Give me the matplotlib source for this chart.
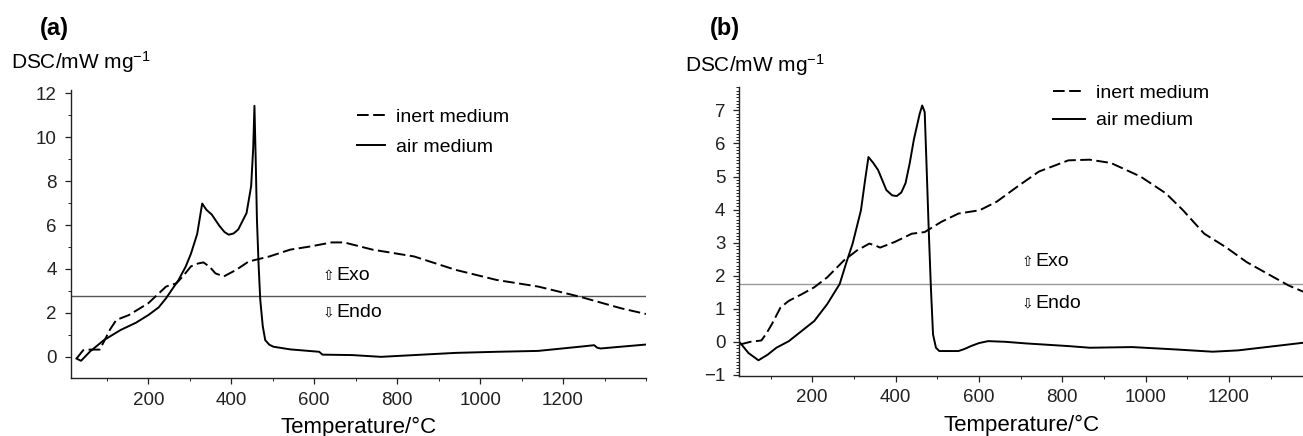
import matplotlib
matplotlib.use("Agg")
import matplotlib.pyplot as plt
from matplotlib.ticker import MultipleLocator, FixedLocator

plt.rcParams['font.family'] = ['Liberation Sans', 'DejaVu Sans']
plt.rcParams['mathtext.fontset'] = 'custom'
plt.rcParams['mathtext.rm'] = 'Liberation Sans'
plt.rcParams['mathtext.it'] = 'Liberation Sans:italic'

# ---- panel (a) ----
a_air_t = [27, 38, 60, 93, 133, 170, 200, 225, 243, 273, 290, 303, 318, 330, 340, 353,
           372, 384, 394, 406, 417, 437, 448, 453, 456, 459, 462, 466, 470, 476, 482,
           492, 502, 542, 612, 620, 692, 761, 841, 941, 1040, 1140, 1240, 1275, 1282,
           1290, 1400]
a_air_v = [-0.08, -0.18, 0.25, 0.76, 1.22, 1.55, 1.9, 2.25, 2.67, 3.5, 4.1, 4.7, 5.6,
           6.98, 6.7, 6.48, 5.95, 5.68, 5.56, 5.62, 5.8, 6.55, 7.77, 9.5, 11.43, 9.0,
           6.25, 4.2, 2.6, 1.4, 0.76, 0.55, 0.46, 0.34, 0.23, 0.1, 0.08, 0.0, 0.08,
           0.18, 0.23, 0.27, 0.46, 0.53, 0.42, 0.38, 0.56]
a_inert_t = [27, 43, 60, 83, 93, 108, 123, 153, 200, 243, 268, 285, 303, 320, 333, 348,
             362, 382, 412, 442, 492, 542, 592, 642, 672, 741, 841, 941, 1040, 1140,
             1240, 1340, 1400]
a_inert_v = [-0.08, 0.3, 0.33, 0.33, 0.69, 1.25, 1.68, 1.9, 2.44, 3.2, 3.35, 3.7, 4.12,
             4.25, 4.3, 4.1, 3.8, 3.66, 3.96, 4.34, 4.57, 4.88, 5.03, 5.21, 5.21, 4.88,
             4.57, 3.96, 3.5, 3.2, 2.74, 2.21, 1.95]
a_baseline = 2.76

# ---- panel (b) ----
b_air_t = [27, 47, 71, 93, 114, 144, 175, 205, 236, 266, 281, 297, 317, 327, 335,
           346, 358, 378, 392, 403, 414, 424, 434, 444, 458, 464, 470, 474, 480, 485,
           490, 497, 505, 551, 565, 581, 600, 622, 663, 714, 815, 866, 968, 1070,
           1161, 1222, 1324, 1378]
b_air_v = [-0.03, -0.34, -0.56, -0.39, -0.18, 0.02, 0.33, 0.63, 1.14, 1.75, 2.36,
           2.97, 3.98, 4.9, 5.59, 5.42, 5.2, 4.59, 4.43, 4.41, 4.52, 4.8, 5.4, 6.12,
           6.9, 7.15, 6.95, 5.5, 3.27, 1.6, 0.22, -0.18, -0.28, -0.28, -0.22, -0.13,
           -0.04, 0.02, 0.0, -0.05, -0.13, -0.18, -0.16, -0.23, -0.3, -0.26, -0.11,
           -0.03]
b_inert_t = [27, 52, 78, 90, 103, 124, 144, 175, 205, 236, 276, 307, 337, 350, 363,
             398, 439, 470, 510, 551, 602, 643, 693, 744, 815, 866, 917, 988, 1049,
             1090, 1141, 1192, 1243, 1294, 1344, 1378]
b_inert_v = [-0.08, 0.0, 0.04, 0.25, 0.53, 1.04, 1.24, 1.44, 1.65, 1.95, 2.46, 2.76,
             2.97, 2.92, 2.85, 3.02, 3.27, 3.32, 3.63, 3.88, 3.98, 4.24, 4.7, 5.15,
             5.49, 5.51, 5.41, 5.0, 4.49, 3.98, 3.27, 2.87, 2.41, 2.05, 1.70, 1.52]
b_baseline = 1.75

x_ticks = [200, 400, 600, 800, 1000, 1200]

W, H = 1303, 436
fig = plt.figure(figsize=(W / 100, H / 100), dpi=100)


def rect(x0, x1, y_top, y_bot):
    return [x0 / W, 1 - y_bot / H, (x1 - x0) / W, (y_bot - y_top) / H]


def fpos(x, y):
    return x / W, 1 - y / H


def style_axes(ax, ymajor, yminor):
    for s in ['top', 'right']:
        ax.spines[s].set_visible(False)
    for s in ['left', 'bottom']:
        ax.spines[s].set_linewidth(1.0)
        ax.spines[s].set_color('#222222')
    ax.xaxis.set_major_locator(FixedLocator(x_ticks))
    ax.xaxis.set_minor_locator(MultipleLocator(100))
    ax.yaxis.set_major_locator(MultipleLocator(ymajor))
    ax.yaxis.set_minor_locator(MultipleLocator(yminor))
    ax.tick_params(which='major', direction='out', length=4, width=0.9,
                   labelsize=13.5, colors='#222222', pad=6)
    ax.tick_params(which='minor', direction='out', length=2.5, width=0.7,
                   colors='#222222')
    ax.set_xlabel('Temperature/°C', fontsize=16, labelpad=6)


dash = (6, 2.3)

# panel a
ax1 = fig.add_axes(rect(70.7, 646, 90, 377.7))
ax1.axhline(a_baseline, color='#555555', lw=1.0)
ax1.plot(a_inert_t, a_inert_v, color='black', lw=1.4, dashes=dash, label='inert medium')
ax1.plot(a_air_t, a_air_v, color='black', lw=1.4, label='air medium')
ax1.set_xlim(13, 1400)
ax1.set_ylim(-0.95, 12.15)
style_axes(ax1, 2, 1)
ax1.legend(loc='upper left', bbox_to_anchor=(0.497, 0.936), frameon=False,
           fontsize=14, handlelength=1.45, handletextpad=0.6, labelspacing=0.62,
           borderpad=0, borderaxespad=0)

# panel b
ax2 = fig.add_axes(rect(739.3, 1303, 87.3, 375.5))
ax2.axhline(b_baseline, color='#999999', lw=1.0)
ax2.plot(b_inert_t, b_inert_v, color='black', lw=1.4, dashes=dash, label='inert medium')
ax2.plot(b_air_t, b_air_v, color='black', lw=1.4, label='air medium')
ax2.set_xlim(25, 1378)
ax2.set_ylim(-1.02, 7.7)
style_axes(ax2, 1, 0.1)
ax2.legend(loc='upper left', bbox_to_anchor=(0.5565, 1.011), frameon=False,
           fontsize=14, handlelength=1.65, handletextpad=0.55, labelspacing=0.52,
           borderpad=0, borderaxespad=0)

# panel letters and y labels
fig.text(*fpos(40, 28), '(a)', fontsize=17, fontweight='bold', va='center', ha='left')
fig.text(*fpos(710, 28), '(b)', fontsize=17, fontweight='bold', va='center', ha='left')
fig.text(*fpos(11, 62), 'DSC/mW mg$^{-1}$', fontsize=15, va='center', ha='left')
fig.text(*fpos(685, 65), 'DSC/mW mg$^{-1}$', fontsize=15, va='center', ha='left')

# exo / endo markers
for ax_x, exo_y, endo_y in [(323, 276, 312), (1022, 262, 303)]:
    fig.text(*fpos(ax_x, exo_y), '⇧', fontsize=10, va='center', ha='left',
             family=['DejaVu Sans'])
    fig.text(*fpos(ax_x + 13, exo_y), 'Exo', fontsize=14, va='center', ha='left')
    fig.text(*fpos(ax_x, endo_y), '⇩', fontsize=10, va='center', ha='left',
             family=['DejaVu Sans'])
    fig.text(*fpos(ax_x + 13, endo_y), 'Endo', fontsize=14, va='center', ha='left')

fig.savefig('out.png', dpi=100)
